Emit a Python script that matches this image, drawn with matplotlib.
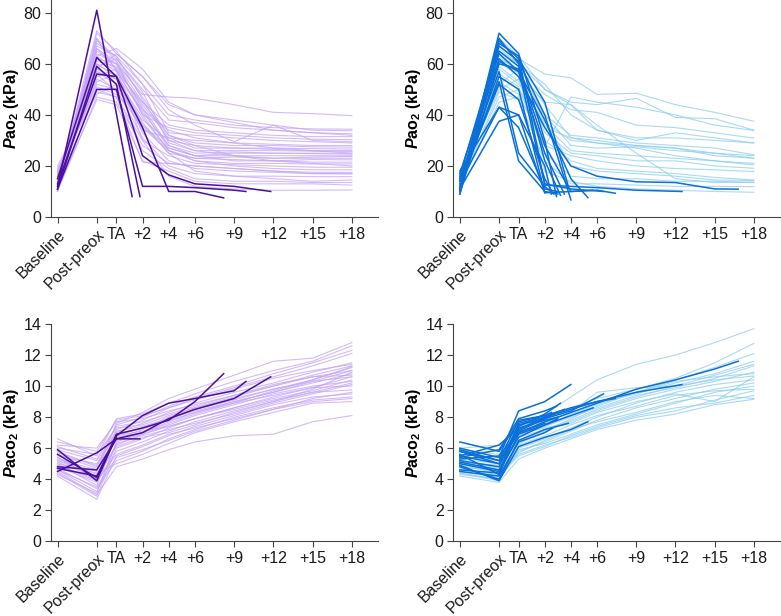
import matplotlib
matplotlib.use("Agg")
import matplotlib.pyplot as plt

plt.rcParams['font.family'] = ['Liberation Sans', 'DejaVu Sans']
plt.rcParams['mathtext.fontset'] = 'custom'
plt.rcParams['mathtext.rm'] = 'Liberation Sans:bold'
plt.rcParams['mathtext.it'] = 'Liberation Sans:italic:bold'

# time points (minutes relative to start of apnoea)
times = [-4.5, -1.5, 0, 2, 4, 6, 9, 12, 15, 18]
tick_pos = [-4.5, -1.5, 0, 2, 4, 6, 9, 12, 15, 18]
tick_labels = ['Baseline', 'Post-preox', 'TA', '+2', '+4', '+6', '+9', '+12', '+15', '+18']

# ---- PaO2, group 1 (purple) ----
pao2_g1_light = [
    [14, 62, 60, 48, 47, 46.5, 44, 41, 40.5, 39.7],
    [12, 68, 63, 52, 40, 38, 36, 35, 34.5, 34.4],
    [16, 58, 64, 55, 42, 36, 29.5, 36, 34, 33.8],
    [11, 70, 62, 50, 38, 37, 35, 34, 33, 32.6],
    [13, 65, 60, 45, 36, 34, 33, 32, 31.5, 31.5],
    [18, 55, 58, 40, 35, 33, 32, 31, 30.5, 30.3],
    [10, 72, 65, 52, 33, 32, 31, 30, 29.5, 29],
    [15, 60, 55, 42, 34, 31, 29, 28.5, 28, 28],
    [12, 66, 61, 47, 32, 29, 28, 28, 27.5, 27.4],
    [17, 52, 50, 38, 30, 28, 27, 27, 26.8, 26.6],
    [11, 63, 58, 44, 31, 27, 27, 26.5, 26, 26],
    [14, 59, 62, 49, 29, 26, 26, 26, 25.8, 25.7],
    [13, 70, 57, 41, 28, 25, 25.5, 25, 25, 25],
    [19, 48, 52, 36, 27, 24, 25, 25, 24.8, 24.6],
    [10, 61, 59, 43, 28, 24, 24, 24, 24, 24],
    [16, 57, 54, 39, 26, 23, 23.5, 23, 23.5, 23.7],
    [12, 67, 63, 46, 30, 26, 24, 23, 23, 23],
    [15, 53, 56, 37, 25, 23, 22.5, 22, 22.5, 22.4],
    [11, 64, 60, 42, 27, 24, 22, 22, 21.5, 21.5],
    [13, 56, 49, 35, 26, 22, 21, 21, 20.8, 20.8],
    [17, 62, 57, 45, 32, 28, 24, 22, 21, 20],
    [12, 50, 47, 30, 24, 21, 20.5, 20, 19.5, 19.5],
    [14, 69, 61, 40, 26, 22, 20, 19, 18.5, 18.5],
    [10, 47, 45, 28, 21, 20, 19, 18, 17.5, 17.5],
    [16, 58, 54, 33, 22, 19, 18, 17.5, 17, 16.9],
    [12, 54, 50, 31, 20, 17, 16, 16, 15.8, 15.8],
    [13, 60, 55, 36, 25, 18, 16, 15, 14, 14.5],
    [18, 51, 48, 26, 19, 15, 14, 14, 13.5, 13.5],
    [11, 46, 44, 22, 18, 14, 13, 13, 13, 12.5],
    [15, 66, 58, 30, 16, 12, 11, 10.5, 10.5, 10.6],
    [13, 73, 64, 55, 44, 40, 37, 34, 33, 32],
    [12, 63, 66, 58, 45, 40, 38, 36, 30, 29.5],
    [20, 49, 47, 21.5, 21, 20, 19, 18, 17, 17],
    [14, 57, 52, 34, 31, 30, 29, 27, 26, 25],
]
pao2_g1_dark_t = [
    [-4.5, -1.5, 1.2],
    [-4.5, -1.5, 0, 1.8],
    [-4.5, -1.5, 0, 2, 4, 6, 9, 11.8],
    [-4.5, -1.5, 0, 2, 4, 6, 8.2],
    [-4.5, -1.5, 0, 2, 4, 6, 9, 9.9],
]
pao2_g1_dark_v = [
    [12, 81, 8],
    [11, 59, 52, 8],
    [15, 62.5, 55, 24, 16.5, 13, 12, 10],
    [13, 56, 55, 35, 10, 10, 7.5],
    [11, 50, 50, 12, 12, 11.5, 10.5, 10],
]

# ---- PaO2, group 2 (blue) ----
pao2_g2_light = [
    [13, 60, 62, 56, 54.5, 48, 48.5, 44, 41, 37.5],
    [11, 66, 60, 50, 45, 44, 46.5, 39, 38.5, 34],
    [15, 55, 50, 27.6, 47, 45, 43, 40, 36, 33.9],
    [12, 62, 58, 48, 42, 41, 36, 35, 33, 30.9],
    [14, 64, 56, 45, 44, 34, 30, 33, 31, 29],
    [10, 58, 52, 40, 32, 31, 29, 28, 27, 24.4],
    [16, 50, 54, 37, 30, 29, 28, 27, 25, 23],
    [12, 70, 63, 50, 44, 36, 25, 15, 13.5, 13.6],
    [13, 47, 50, 35, 31, 29, 27, 24, 22, 20.4],
    [11, 60, 57, 33, 25, 24, 22, 22, 20, 19.1],
    [17, 53, 48, 28, 24, 22, 20, 19, 18.5, 17.8],
    [14, 67, 61, 38, 20, 18, 17, 16, 14.5, 14.3],
    [10, 56, 51, 25, 16, 15, 15, 14, 14, 13.6],
    [12, 49, 46, 22, 13, 13, 12.5, 12, 12, 11.9],
    [15, 61, 55, 18, 14, 12, 11, 10.5, 10, 9.7],
    [13, 52, 58, 44, 31, 30, 28, 27, 24, 23],
    [11, 65, 60, 52, 40, 34, 31, 31, 30, 29],
    [16, 59, 53, 36, 26, 25, 24, 23, 22, 21],
    [12, 45, 47, 30, 22, 19, 18, 17, 15.5, 14.5],
    [14, 63, 57, 40, 28, 27, 27.5, 26, 25, 24],
]
pao2_g2_dark_t = [
    [-4.5, -1.5, 0, 2, 4, 6, 9, 12, 15, 16.8],
    [-4.5, -1.5, 0, 2, 4, 6, 9, 12.5],
    [-4.5, -1.5, 0, 2, 4, 6, 7.4],
    [-4.5, -1.5, 0, 2, 4, 6.5],
    [-4.5, -1.5, 0, 2, 2.9],
    [-4.5, -1.5, 0, 2, 3.2],
    [-4.5, -1.5, 0, 2, 4.0],
    [-4.5, -1.5, 0, 2, 4, 5.3],
    [-4.5, -1.5, 0, 2],
    [-4.5, -1.5, 0, 2, 2.5],
    [-4.5, -1.5, 0, 2, 3],
    [-4.5, -1.5, 0, 2, 3.5],
    [-4.5, -1.5, 0, 2, 2.6],
    [-4.5, -1.5, 0, 2, 4, 5.7],
    [-4.5, -1.5, 0, 2, 3],
    [-4.5, -1.5, 0, 2, 3.8],
    [-4.5, -1.5, 0, 2, 2.7],
]
pao2_g2_dark_v = [
    [14, 62, 55, 35, 20, 16, 13.8, 13.5, 11, 10.9],
    [10, 60, 58, 12.5, 12, 11.5, 10.5, 10],
    [11, 55, 50, 9.5, 10, 10.5, 9.3],
    [16, 68, 63, 13, 11, 10],
    [10, 72, 64, 30, 8],
    [12, 70, 60, 22, 8.5],
    [9, 67, 61, 40, 6.7],
    [17, 64, 57, 38, 15, 7.6],
    [13, 43, 40, 9.5],
    [11, 37.5, 40, 20, 9],
    [15, 53, 22, 10, 9],
    [9, 61, 57, 25, 9],
    [14, 52, 46, 15, 9.5],
    [10, 65, 59, 28, 10, 10.5],
    [18, 43, 35, 11, 10],
    [11, 69, 62, 45, 12],
    [15, 57, 25, 12, 9],
]

# ---- PaCO2, group 1 (purple) ----
paco2_g1_light = [
    [5.2, 4.5, 7.6, 8.3, 9.2, 9.8, 10.7, 11.6, 11.8, 12.8],
    [6.6, 5.5, 7.9, 8.2, 8.9, 9.5, 10.3, 11.0, 11.6, 12.6],
    [5.8, 4.8, 7.5, 8.0, 8.7, 9.3, 10.0, 10.8, 11.5, 12.3],
    [4.9, 4.0, 7.2, 7.8, 8.6, 9.2, 9.9, 10.6, 11.3, 12.1],
    [5.5, 5.0, 7.0, 7.6, 8.3, 8.9, 9.6, 10.2, 10.9, 11.5],
    [6.2, 6.0, 7.7, 7.9, 8.4, 8.8, 9.4, 10.0, 10.7, 11.3],
    [5.0, 3.6, 6.8, 7.3, 8.0, 8.6, 9.3, 10.0, 10.6, 11.0],
    [5.4, 4.3, 6.6, 7.2, 7.9, 8.5, 9.1, 9.8, 10.4, 11.25],
    [4.6, 3.2, 6.4, 7.0, 7.7, 8.3, 9.0, 9.6, 10.2, 10.8],
    [6.0, 5.6, 7.3, 7.5, 8.1, 8.6, 9.2, 9.8, 10.3, 10.6],
    [5.1, 4.1, 6.2, 6.9, 7.5, 8.1, 8.8, 9.5, 10.0, 10.3],
    [4.4, 2.9, 6.0, 6.6, 7.3, 7.9, 8.6, 9.3, 9.9, 10.0],
    [5.7, 4.9, 6.9, 7.3, 7.8, 8.3, 8.9, 9.4, 9.9, 10.6],
    [4.8, 3.8, 5.8, 6.4, 7.1, 7.7, 8.4, 9.0, 9.6, 9.75],
    [5.3, 4.6, 6.5, 6.9, 7.4, 7.9, 8.6, 9.2, 9.7, 10.4],
    [4.2, 2.7, 5.5, 6.1, 6.8, 7.4, 8.1, 8.8, 9.3, 9.5],
    [5.9, 5.2, 7.1, 7.4, 7.9, 8.4, 9.0, 9.6, 10.3, 11.0],
    [4.7, 3.4, 5.2, 5.8, 6.6, 7.2, 8.0, 8.6, 9.1, 9.3],
    [5.0, 4.4, 5.0, 5.6, 6.3, 7.0, 7.7, 8.3, 8.9, 9.0],
    [4.5, 3.0, 4.8, 5.3, 5.9, 6.4, 6.8, 6.9, 7.7, 8.1],
    [6.4, 5.8, 7.8, 8.1, 8.6, 9.1, 9.8, 10.5, 11.0, 11.4],
    [5.6, 4.7, 6.7, 7.0, 7.6, 8.2, 8.9, 9.7, 10.4, 11.2],
    [4.3, 3.1, 6.3, 6.8, 7.2, 7.6, 8.2, 8.9, 9.5, 10.1],
    [5.2, 4.2, 6.1, 6.7, 7.0, 7.5, 8.3, 9.0, 9.8, 10.9],
    [4.9, 3.9, 5.6, 6.2, 6.9, 7.3, 7.9, 8.5, 9.2, 9.6],
    [6.1, 5.3, 7.4, 7.7, 8.2, 8.7, 9.4, 10.1, 10.6, 10.7],
    [5.4, 4.0, 6.8, 7.1, 7.4, 7.9, 8.5, 9.1, 9.6, 10.2],
    [4.6, 3.5, 5.4, 5.9, 6.5, 7.1, 7.8, 8.5, 9.0, 9.2],
]
paco2_g1_dark_t = [
    [-4.5, -1.5, 0, 1.8],
    [-4.5, -1.5, 0, 2, 4, 6, 9, 9.9],
    [-4.5, -1.5, 0, 2, 4, 6, 9, 11.8],
    [-4.5, -1.5, 0, 2, 4, 6, 8.2],
    [-4.5, -1.5, 0],
]
paco2_g1_dark_v = [
    [4.5, 5.7, 6.6, 6.6],
    [5.9, 3.9, 6.8, 8.1, 8.9, 9.2, 9.7, 10.3],
    [4.8, 4.6, 6.6, 7.0, 7.9, 8.5, 9.2, 10.6],
    [5.6, 4.1, 6.9, 7.3, 7.8, 9.0, 10.8],
    [4.7, 4.2, 6.7],
]

# ---- PaCO2, group 2 (blue) ----
paco2_g2_light = [
    [5.0, 4.6, 7.2, 8.2, 9.3, 10.4, 11.4, 12.0, 12.8, 13.7],
    [5.6, 5.4, 7.4, 7.9, 8.6, 9.2, 9.8, 10.5, 11.5, 12.75],
    [4.7, 4.2, 6.8, 7.4, 8.2, 8.8, 9.6, 10.4, 11.2, 12.1],
    [5.9, 5.6, 7.1, 7.6, 8.3, 8.9, 9.5, 10.2, 10.8, 11.6],
    [4.4, 3.9, 6.3, 7.0, 7.8, 8.5, 9.3, 10.0, 10.7, 11.4],
    [5.2, 4.7, 6.5, 7.1, 7.9, 8.7, 9.6, 10.3, 10.6, 10.8],
    [6.0, 6.2, 7.3, 7.7, 8.3, 9.6, 9.9, 10.0, 10.4, 10.65],
    [4.9, 4.4, 6.0, 6.6, 7.3, 8.0, 8.9, 9.6, 10.1, 10.4],
    [4.3, 4.0, 5.8, 6.4, 7.1, 7.8, 8.6, 9.2, 9.8, 10.2],
    [5.4, 5.2, 6.2, 6.8, 7.5, 8.1, 8.7, 9.4, 9.7, 9.8],
    [4.6, 4.3, 5.5, 6.1, 6.8, 7.4, 8.1, 8.6, 8.9, 9.4],
    [4.2, 3.8, 5.3, 6.0, 6.6, 7.2, 7.8, 8.2, 8.8, 9.15],
    [5.1, 4.9, 6.7, 7.2, 7.6, 8.3, 9.0, 9.5, 9.0, 10.6],
    [4.5, 4.1, 5.9, 6.3, 6.9, 7.5, 8.2, 8.9, 9.6, 10.0],
    [5.3, 5.0, 6.9, 7.3, 7.7, 8.4, 9.2, 9.8, 10.3, 10.9],
    [4.8, 4.5, 5.6, 6.2, 6.7, 7.3, 8.0, 8.4, 9.1, 9.7],
    [5.7, 5.8, 7.0, 7.4, 8.0, 8.6, 9.4, 9.9, 10.5, 11.3],
    [4.4, 4.0, 5.7, 6.5, 7.2, 7.7, 8.3, 9.0, 9.4, 9.2],
]
paco2_g2_dark_t = [
    [-4.5, -1.5, 0, 2, 4, 6, 9, 12, 15, 16.8],
    [-4.5, -1.5, 0, 2, 4, 6, 9, 12.5],
    [-4.5, -1.5, 0, 2, 4, 6, 7.4],
    [-4.5, -1.5, 0, 2, 4, 6.5],
    [-4.5, -1.5, 0, 2, 2.9],
    [-4.5, -1.5, 0, 2, 3.2],
    [-4.5, -1.5, 0, 2, 4.0],
    [-4.5, -1.5, 0, 2, 4, 5.3],
    [-4.5, -1.5, 0, 2],
    [-4.5, -1.5, 0, 2, 2.5],
    [-4.5, -1.5, 0, 2, 3],
    [-4.5, -1.5, 0, 2, 3.5],
    [-4.5, -1.5, 0, 2, 2.6],
    [-4.5, -1.5, 0, 2, 4, 5.7],
    [-4.5, -1.5, 0, 2, 3],
    [-4.5, -1.5, 0, 2, 3.8],
    [-4.5, -1.5, 0, 2, 2.7],
]
paco2_g2_dark_v = [
    [5.5, 5.0, 7.0, 7.7, 8.3, 8.9, 9.8, 10.4, 11.1, 11.6],
    [5.2, 4.8, 7.6, 8.0, 8.5, 9.0, 9.6, 10.1],
    [5.8, 5.2, 7.8, 8.1, 8.6, 9.0, 9.2],
    [5.0, 4.5, 7.5, 7.9, 8.4, 9.5],
    [5.4, 5.9, 7.9, 8.4, 8.7],
    [5.6, 4.3, 7.4, 8.2, 8.9],
    [6.0, 5.4, 8.4, 9.0, 10.1],
    [4.9, 3.9, 6.1, 6.7, 7.2, 7.7],
    [5.3, 5.5, 7.0, 7.6],
    [6.4, 5.8, 7.7, 8.1, 8.3],
    [4.6, 4.4, 6.9, 7.5, 7.9],
    [5.8, 5.0, 7.2, 8.0, 8.5],
    [4.5, 4.2, 6.4, 7.0, 7.3],
    [5.1, 4.6, 6.7, 7.5, 8.1, 8.6],
    [5.5, 6.2, 7.3, 7.8, 8.0],
    [4.8, 4.0, 6.5, 7.2, 7.6],
    [5.9, 5.2, 7.1, 7.9, 8.2],
]

light_purple = '#c4a4f6'
dark_purple = '#4b0f9f'
light_blue = '#8ccdef'
dark_blue = '#0a6fd8'

fig = plt.figure(figsize=(7.81, 6.16), dpi=100)
ax_tl = fig.add_axes([0.0653, 0.6477, 0.4187, 0.3523])
ax_tr = fig.add_axes([0.5804, 0.6477, 0.4183, 0.3523])
ax_bl = fig.add_axes([0.0653, 0.1213, 0.4187, 0.3527])
ax_br = fig.add_axes([0.5804, 0.1213, 0.4183, 0.3527])


def draw(ax, light, dark_t, dark_v, lc, dc):
    for v in light:
        ax.plot(times, v, color=lc, lw=0.8, alpha=0.75)
    for t, v in zip(dark_t, dark_v):
        ax.plot(t, v, color=dc, lw=1.1)


draw(ax_tl, pao2_g1_light, pao2_g1_dark_t, pao2_g1_dark_v, light_purple, dark_purple)
draw(ax_tr, pao2_g2_light, pao2_g2_dark_t, pao2_g2_dark_v, light_blue, dark_blue)
draw(ax_bl, paco2_g1_light, paco2_g1_dark_t, paco2_g1_dark_v, light_purple, dark_purple)
draw(ax_br, paco2_g2_light, paco2_g2_dark_t, paco2_g2_dark_v, light_blue, dark_blue)

for ax in [ax_tl, ax_tr, ax_bl, ax_br]:
    ax.set_xlim(-5, 20)
    ax.spines['top'].set_visible(False)
    ax.spines['right'].set_visible(False)
    ax.spines['left'].set_color('#444444')
    ax.spines['bottom'].set_color('#444444')
    ax.tick_params(colors='#444444', labelcolor='#1a1a1a', labelsize=11.5, length=4, pad=3)
    ax.set_xticks(tick_pos)
    ax.set_xticklabels(tick_labels)
    for lbl in ax.get_xticklabels()[:2]:
        lbl.set_rotation(45)
        lbl.set_ha('right')
        lbl.set_rotation_mode('anchor')

for ax in [ax_tl, ax_tr]:
    ax.set_ylim(0, 85)
    ax.set_yticks([0, 20, 40, 60, 80])
    ax.set_ylabel(r'$\it{P}$ao$_\mathregular{2}$ (kPa)', fontweight='bold', fontsize=11.5, labelpad=2)

for ax in [ax_bl, ax_br]:
    ax.set_ylim(0, 14)
    ax.set_yticks([0, 2, 4, 6, 8, 10, 12, 14])
    ax.set_ylabel(r'$\it{P}$aco$_\mathregular{2}$ (kPa)', fontweight='bold', fontsize=11.5, labelpad=2)

plt.savefig('out.png', dpi=100)
